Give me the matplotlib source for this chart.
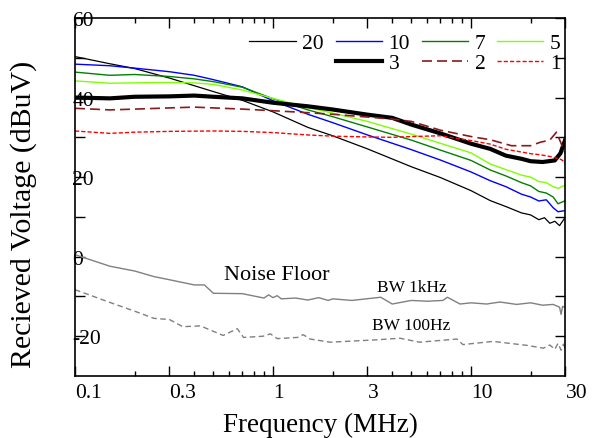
import matplotlib
matplotlib.use('Agg')
import matplotlib.pyplot as plt
from matplotlib.lines import Line2D

plt.rcParams['font.family'] = ['Liberation Serif', 'DejaVu Serif']

# received level vs frequency, one curve per distance (m)
f_20 = [0.1, 0.15, 0.2, 0.3, 0.5, 0.7, 1, 1.5, 2, 3, 5, 7, 10, 12.5, 15, 18, 20, 22, 23.5, 25, 26.5, 28, 30]
v_20 = [50.3, 48.5, 47.3, 44.9, 41.5, 39.3, 36.4, 32.5, 30.4, 27.1, 22.6, 19.9, 16.6, 14.1, 12.6, 11.0, 10.5, 9.3, 9.8, 8.4, 8.9, 7.8, 10.0]

f_near = [0.1, 0.15, 0.2, 0.3, 0.4, 0.5, 0.7, 1, 1.5, 2, 3, 5, 7, 10, 12.5, 15, 18, 20, 22, 24, 26, 27.5, 30]
v_10 = [48.4, 48.0, 47.4, 46.5, 45.6, 44.5, 42.7, 39.2, 35.8, 33.7, 30.6, 26.9, 24.3, 21.3, 19.1, 17.6, 15.7, 15.0, 14.0, 14.3, 12.3, 11.3, 11.6]
v_7 = [46.4, 45.6, 45.8, 45.3, 44.7, 44.0, 42.6, 39.7, 36.9, 35.2, 32.6, 29.3, 26.8, 24.2, 21.8, 20.3, 18.6, 17.8, 16.4, 16.0, 15.0, 13.3, 14.1]
v_5 = [44.2, 43.6, 43.7, 43.8, 43.7, 43.3, 41.9, 39.8, 37.5, 36.1, 34.0, 30.8, 28.5, 26.1, 23.3, 21.9, 20.5, 20.0, 18.9, 18.6, 17.6, 17.2, 18.0]

f_3 = [0.1, 0.15, 0.2, 0.3, 0.4, 0.5, 0.7, 1, 1.5, 2, 3, 4, 5, 7, 10, 12.5, 15, 18, 20, 23, 26.5, 28.3, 30]
v_3 = [40.0, 39.8, 40.2, 40.3, 40.5, 40.2, 39.8, 38.7, 37.8, 37.0, 35.7, 34.9, 33.2, 31.0, 28.4, 27.1, 25.4, 24.6, 24.0, 23.8, 24.2, 26.0, 29.6]

f_2 = [0.1, 0.15, 0.2, 0.3, 0.4, 0.5, 0.7, 1, 1.5, 2, 3, 4, 5, 7, 10, 12.5, 16, 20, 22.5, 25, 27, 28.5, 30]
v_2 = [37.3, 36.9, 37.1, 37.4, 37.6, 37.4, 37.1, 36.7, 36.2, 35.8, 35.1, 34.6, 34.0, 31.8, 30.2, 29.4, 27.9, 27.9, 28.8, 29.3, 31.3, 28.5, 25.8]

f_1 = [0.1, 0.15, 0.2, 0.3, 0.5, 0.7, 1, 1.5, 2, 3, 4, 5, 7, 10, 12.5, 15, 20, 22.5, 25, 28, 29, 30]
v_1 = [31.6, 31.0, 31.3, 31.5, 31.6, 31.5, 31.2, 30.6, 30.3, 30.1, 30.0, 30.2, 30.4, 29.2, 28.3, 27.0, 25.9, 25.6, 25.2, 24.6, 24.2, 23.3]

# receiver noise floor
f_nf1k = [0.1, 0.15, 0.2, 0.25, 0.3, 0.4, 0.45, 0.5, 0.7, 0.9, 0.95, 1.0, 1.05, 1.1, 1.3, 1.5, 1.7, 1.9, 2.0, 2.5,
          3.5, 4.0, 5.0, 6.0, 7.2, 7.6, 8.8, 10, 12, 14, 17, 20, 23, 26, 28, 28.5, 29, 30]
v_nf1k = [0.5, -2.4, -3.6, -5.0, -5.8, -7.1, -7.1, -9.2, -9.3, -10.4, -9.6, -10.3, -9.8, -10.6, -10.4, -10.9, -10.3, -11.0, -10.6, -11.0,
          -10.2, -11.9, -11.0, -11.2, -11.0, -10.2, -11.9, -11.6, -11.9, -11.4, -12.0, -11.6, -12.2, -12.0, -12.7, -14.5, -12.5, -12.8]

f_nf100 = [0.1, 0.15, 0.2, 0.25, 0.3, 0.35, 0.43, 0.56, 0.66, 0.71, 0.89, 0.97, 1.05, 1.33, 1.42, 1.54, 1.94, 3.35,
           4.37, 5.5, 8.5, 9.1, 12.9, 19.2, 23.2, 25, 26.5, 27.5, 28.5, 29.3, 30]
v_nf100 = [-8.3, -11.5, -13.7, -15.5, -15.8, -17.6, -17.4, -19.8, -18.1, -20.3, -20.0, -19.4, -20.6, -20.3, -19.6, -20.7, -21.5, -20.9,
           -20.5, -21.5, -20.7, -22.1, -21.3, -22.3, -23.0, -22.2, -23.3, -21.8, -23.5, -22.0, -23.2]

xticks = [0.1, 0.3, 1, 3, 10, 30]
xticklabels = ['0.1', '0.3', '1', '3', '10', '30']
xminor = [0.2, 0.4, 0.5, 0.6, 0.7, 0.8, 0.9, 2, 4, 5, 6, 7, 8, 9, 20]
yticks = [-20, -10, 0, 10, 20, 30, 40, 50, 60]
yticklabels = ['-20', '', '0', '', '20', '', '40', '', '60']

fig = plt.figure(figsize=(5.94, 4.39), dpi=100)
ax = fig.add_axes([0.1263, 0.1412, 0.8257, 0.8155])

l20, = ax.plot(f_20, v_20, color='black', lw=0.9)
l10, = ax.plot(f_near, v_10, color='#0000ff', lw=1.0)
l7, = ax.plot(f_near, v_7, color='#008000', lw=1.0)
l5, = ax.plot(f_near, v_5, color='#7fff00', lw=1.0)
l3, = ax.plot(f_3, v_3, color='black', lw=3.0)
l2, = ax.plot(f_2, v_2, color='#8b1a1a', lw=1.2, dashes=(6, 3))
l1, = ax.plot(f_1, v_1, color='#ff0000', lw=1.0, dashes=(3, 1.5))

ax.plot(f_nf1k, v_nf1k, color='#808080', lw=1.0)
ax.plot(f_nf100, v_nf100, color='#808080', lw=1.0, dashes=(4, 2.5))

ax.text(1.05, -4.4, 'Noise Floor', fontsize=16, ha='center', va='center')
ax.text(5.0, -7.6, 'BW 1kHz', fontsize=12.5, ha='center', va='center')
ax.text(5.0, -17.3, 'BW 100Hz', fontsize=12.5, ha='center', va='center')

ax.set_xscale('log')
ax.set_xlim(0.1, 30)
ax.set_ylim(-30, 60)
ax.set_xticks(xticks)
ax.set_xticklabels(xticklabels)
ax.set_xticks(xminor, minor=True)
ax.set_xticklabels([], minor=True)
ax.set_yticks(yticks)
ax.set_yticklabels(yticklabels)
ax.tick_params(which='both', direction='in', top=True, right=True, width=1.0, labelsize=15.5)
ax.tick_params(which='major', length=7)
ax.tick_params(which='minor', length=3.6)
ax.tick_params(axis='x', pad=5)
ax.tick_params(axis='y', pad=2)
for lbl in ax.get_xticklabels():
    lbl.set_ha('left')
for lbl in ax.get_yticklabels():
    lbl.set_ha('left')
for s in ax.spines.values():
    s.set_linewidth(1.2)

ax.set_xlabel('Frequency (MHz)', fontsize=19.5, labelpad=7)
ax.set_ylabel('Recieved Voltage (dBuV)', fontsize=21.5)
ax.yaxis.set_label_coords(-0.077, 0.453)

blank = Line2D([], [], color='none')
ax.legend([l20, blank, l10, l3, l7, l2, l5, l1], ['20', '', '10', '3', '7', '2', '5', '1'],
          ncol=4, loc='upper right', bbox_to_anchor=(0.99, 0.958), frameon=False,
          fontsize=15.5, handlelength=2.15, handletextpad=0.3, columnspacing=0.55,
          labelspacing=0.0, borderpad=0, borderaxespad=0)

fig.savefig('out.png', dpi=100)
